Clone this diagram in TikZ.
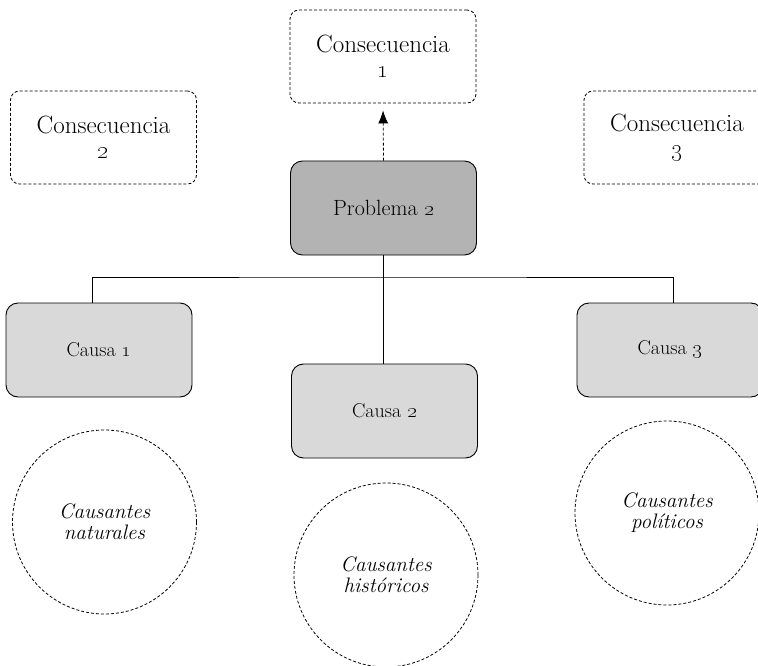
\documentclass[tikz,border=0pt]{standalone}
\usetikzlibrary{positioning,arrows.meta}
\definecolor{probgray}{HTML}{B3B3B3}
\definecolor{causagray}{HTML}{D9D9D9}
\tikzset{
  cons/.style={draw, dash pattern=on 3pt off 2pt, line width=0.8pt, rounded corners=9pt,
    minimum width=186pt, minimum height=93pt, align=center, font=\fontsize{25}{25}\selectfont},
  prob/.style={draw, fill=probgray, line width=0.9pt, rounded corners=12pt,
    minimum width=186pt, minimum height=94pt, font=\fontsize{22}{24}\selectfont},
  causa/.style={prob, fill=causagray, font=\fontsize{20}{22}\selectfont},
  causante/.style={draw, circle, dash pattern=on 3pt off 2pt, line width=0.8pt,
    minimum size=184pt, align=center, font=\fontsize{21}{21}\selectfont\itshape}
}

\begin{document}
\begin{tikzpicture}[x=1pt, y=-1pt]
\useasboundingbox (0,0) rectangle (758,666);
% Nodes
\node[cons] (cons1) at (383,56.5) {Consecuencia\\\oldstylenums{1}};
\node[cons] (cons2) at (103.5,137.5) {Consecuencia\\\oldstylenums{2}};
\node[cons] (cons3) at (677,137.5) {Consecuencia\\\oldstylenums{3}};
\node[prob] (prob) at (383.5,208) {Problema \oldstylenums{2}};
\node[causa] (c1) at (99,350) {Causa \oldstylenums{1}};
\node[causa] (c2) at (384.5,411) {Causa \oldstylenums{2}};
\node[causa] (c3) at (670,350) {Causa \oldstylenums{3}};
\node[causante] (nat) at (104.5,522) {Causantes\\naturales};
\node[causante] (his) at (386,575) {Causantes\\hist\'oricos};
\node[causante] (pol) at (667,513) {Causantes\\pol\'iticos};
% Lines
\coordinate (bar) at (383,277);
\draw[dash pattern=on 3pt off 2pt, line width=0.8pt, -{Latex[length=13pt,width=10pt]}, shorten >=7pt]
  (prob.north) -- (cons1.south);
\draw[line width=0.9pt] (prob.south) -- (prob.south |- c2.north);
\draw[line width=0.9pt] ([xshift=-7pt]c1.north) |- (bar) -| ([xshift=3pt]c3.north);
\end{tikzpicture}
\end{document}
